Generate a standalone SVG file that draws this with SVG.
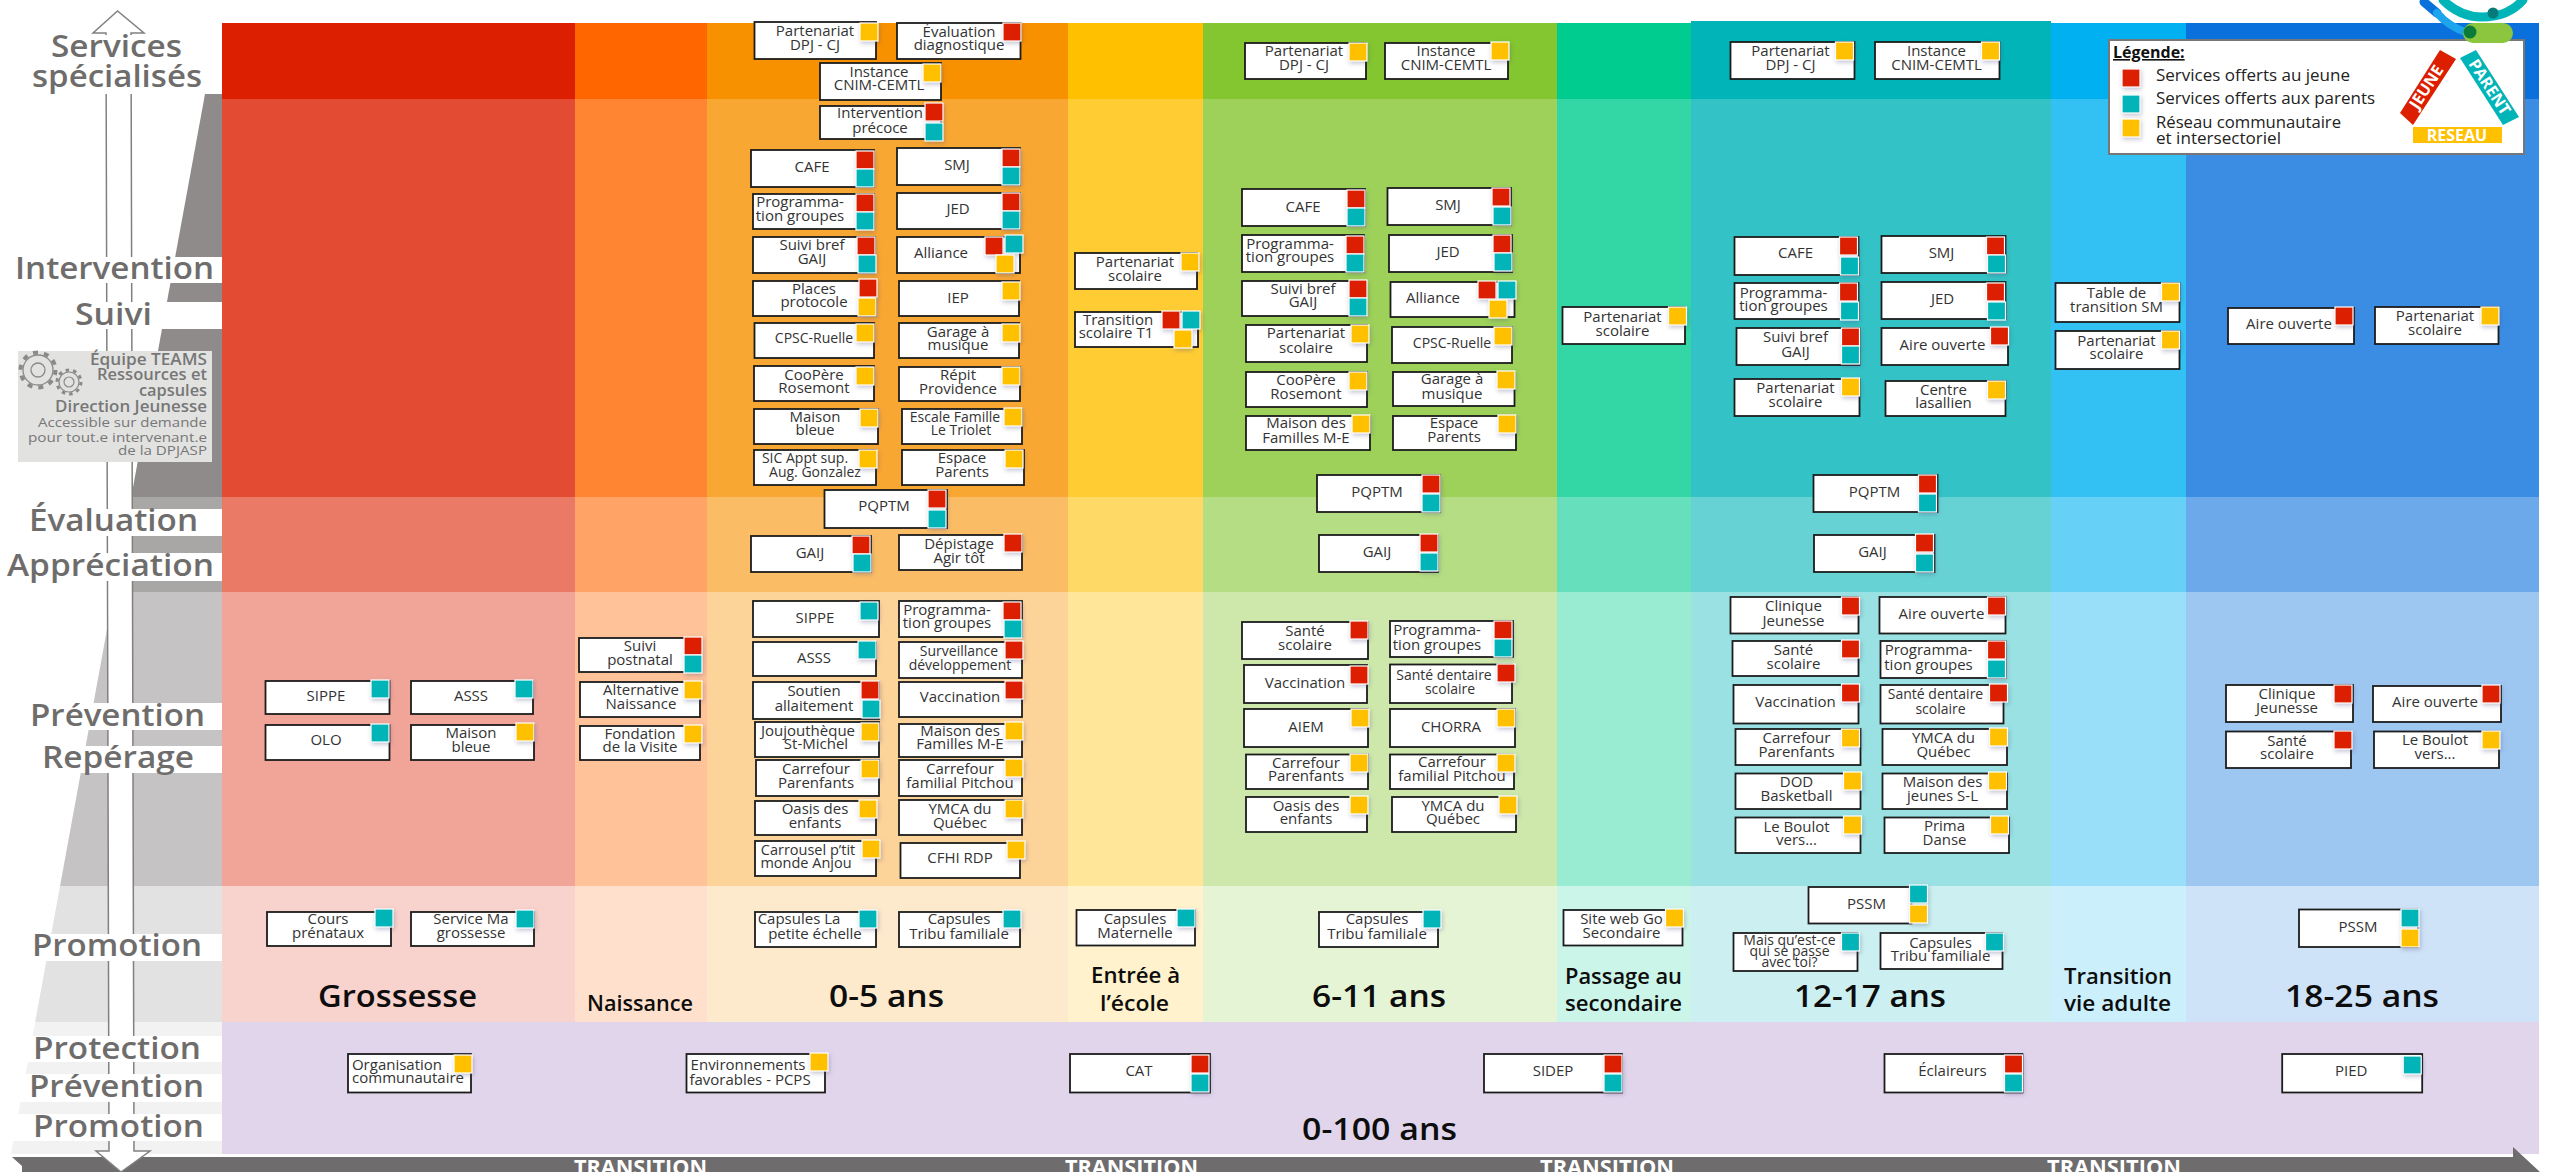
<svg xmlns="http://www.w3.org/2000/svg" width="2549" height="1172" viewBox="0 0 2549 1172">
<style>
text{font-family:"Open Sans","Liberation Sans",sans-serif}
.c0{fill:#DC1F00}.c1{fill:#FF6600}.c2{fill:#F79100}.c3{fill:#FFC000}.c4{fill:#84C630}.c5{fill:#00CC8F}.c6{fill:#00B4B8}.c7{fill:#00B0F0}.c8{fill:#0A70DC}
.b{fill:#fff;stroke:#1c1c1c;stroke-width:1.8}
.s{width:18px;height:18px;stroke:#fff;stroke-width:1.2;filter:drop-shadow(1px 2px 2px rgba(70,70,120,.3))}
.r{fill:#DC1F00}.t{fill:#00B4B8}.g{fill:#FFC000}
.l{font-size:15px;fill:#333;text-anchor:middle}
.h{font-size:30px;font-weight:600;fill:#6F6D6C}
.w{fill:#fff}
.a{font-weight:600;fill:#0d0d0d}
.q{fill:#777}
.lg{font-size:16px;fill:#222}
.tr{font-size:21px;font-weight:700;fill:#fff}
.gear{fill:none;stroke:#8a8a8a}
</style>
<defs><clipPath id="py"><polygon points="205,94 222,94 222,1154 11,1154"/></clipPath></defs>
<rect width="2549" height="1172" fill="#fff"/>
<g id="left-panel">
<g clip-path="url(#py)">
<rect x="0" y="94" width="222" height="403" fill="#8F8B8B"/>
<rect x="0" y="497" width="222" height="95" fill="#A9A7A6"/>
<rect x="0" y="592" width="222" height="294" fill="#C5C3C4"/>
<rect x="0" y="886" width="222" height="136" fill="#E2E2E2"/>
<rect x="0" y="1022" width="222" height="132" fill="#F2F2F2"/>
</g>
</g>
<g id="bands">
<g fill-opacity="1">
<rect class="c0" x="222" y="23" width="353" height="76"/><rect class="c1" x="575" y="23" width="132" height="76"/><rect class="c2" x="707" y="23" width="361" height="76"/><rect class="c3" x="1068" y="23" width="135" height="76"/><rect class="c4" x="1203" y="23" width="354" height="76"/><rect class="c5" x="1557" y="23" width="134" height="76"/><rect class="c6" x="1691" y="21" width="360" height="78"/><rect class="c7" x="2051" y="23" width="135" height="76"/><rect class="c8" x="2186" y="23" width="353" height="76"/>
</g>
<g fill-opacity=".8">
<rect class="c0" x="222" y="99" width="353" height="398"/><rect class="c1" x="575" y="99" width="132" height="398"/><rect class="c2" x="707" y="99" width="361" height="398"/><rect class="c3" x="1068" y="99" width="135" height="398"/><rect class="c4" x="1203" y="99" width="354" height="398"/><rect class="c5" x="1557" y="99" width="134" height="398"/><rect class="c6" x="1691" y="99" width="360" height="398"/><rect class="c7" x="2051" y="99" width="135" height="398"/><rect class="c8" x="2186" y="99" width="353" height="398"/>
</g>
<g fill-opacity=".6">
<rect class="c0" x="222" y="497" width="353" height="95"/><rect class="c1" x="575" y="497" width="132" height="95"/><rect class="c2" x="707" y="497" width="361" height="95"/><rect class="c3" x="1068" y="497" width="135" height="95"/><rect class="c4" x="1203" y="497" width="354" height="95"/><rect class="c5" x="1557" y="497" width="134" height="95"/><rect class="c6" x="1691" y="497" width="360" height="95"/><rect class="c7" x="2051" y="497" width="135" height="95"/><rect class="c8" x="2186" y="497" width="353" height="95"/>
</g>
<g fill-opacity=".4">
<rect class="c0" x="222" y="592" width="353" height="294"/><rect class="c1" x="575" y="592" width="132" height="294"/><rect class="c2" x="707" y="592" width="361" height="294"/><rect class="c3" x="1068" y="592" width="135" height="294"/><rect class="c4" x="1203" y="592" width="354" height="294"/><rect class="c5" x="1557" y="592" width="134" height="294"/><rect class="c6" x="1691" y="592" width="360" height="294"/><rect class="c7" x="2051" y="592" width="135" height="294"/><rect class="c8" x="2186" y="592" width="353" height="294"/>
</g>
<g fill-opacity=".2">
<rect class="c0" x="222" y="886" width="353" height="136"/><rect class="c1" x="575" y="886" width="132" height="136"/><rect class="c2" x="707" y="886" width="361" height="136"/><rect class="c3" x="1068" y="886" width="135" height="136"/><rect class="c4" x="1203" y="886" width="354" height="136"/><rect class="c5" x="1557" y="886" width="134" height="136"/><rect class="c6" x="1691" y="886" width="360" height="136"/><rect class="c7" x="2051" y="886" width="135" height="136"/><rect class="c8" x="2186" y="886" width="353" height="136"/>
</g>
<rect x="222" y="1022" width="2317" height="132" fill="#E1D5EC"/>
</g>
<g id="timeline">
<polygon points="12,1157 2513,1157 2513,1147 2540,1172 22,1172 22,1166" fill="#6E6C6C"/>
<text class="tr" x="574" y="1175" textLength="133" lengthAdjust="spacingAndGlyphs">TRANSITION</text>
<text class="tr" x="1065" y="1175" textLength="133" lengthAdjust="spacingAndGlyphs">TRANSITION</text>
<text class="tr" x="1540" y="1175" textLength="134" lengthAdjust="spacingAndGlyphs">TRANSITION</text>
<text class="tr" x="2047" y="1175" textLength="134" lengthAdjust="spacingAndGlyphs">TRANSITION</text>
</g>
<g id="axis">
<polygon points="117.500,11 93,33 106,33 109,1151 96,1151 121,1172 150,1151 134,1151 131,33 144,33" fill="#fff" stroke="#808080" stroke-width="1.500"/>
</g>
<g id="axis-labels">
<rect class="w" x="0" y="35" width="222" height="59"/>
<rect class="w" x="0" y="257" width="222" height="26"/>
<rect class="w" x="0" y="302" width="222" height="27"/>
<rect class="w" x="0" y="509" width="222" height="27"/>
<rect class="w" x="0" y="553" width="222" height="28"/>
<rect class="w" x="0" y="703" width="222" height="27"/>
<rect class="w" x="0" y="746" width="222" height="27"/>
<rect class="w" x="0" y="934" width="222" height="27"/>
<rect class="w" x="0" y="1036" width="222" height="26"/>
<rect class="w" x="0" y="1074" width="222" height="28"/>
<rect class="w" x="0" y="1114" width="222" height="27"/>
<text class="h" x="51" y="57" textLength="131" lengthAdjust="spacingAndGlyphs">Services</text>
<text class="h" x="32" y="87" textLength="170" lengthAdjust="spacingAndGlyphs">spécialisés</text>
<text class="h" x="15" y="279" textLength="199" lengthAdjust="spacingAndGlyphs">Intervention</text>
<text class="h" x="75" y="325" textLength="77" lengthAdjust="spacingAndGlyphs">Suivi</text>
<text class="h" x="29" y="531" textLength="169" lengthAdjust="spacingAndGlyphs">Évaluation</text>
<text class="h" x="7" y="576" textLength="207" lengthAdjust="spacingAndGlyphs">Appréciation</text>
<text class="h" x="30" y="726" textLength="175" lengthAdjust="spacingAndGlyphs">Prévention</text>
<text class="h" x="42" y="768" textLength="152" lengthAdjust="spacingAndGlyphs">Repérage</text>
<text class="h" x="32" y="956" textLength="170" lengthAdjust="spacingAndGlyphs">Promotion</text>
<text class="h" x="33" y="1059" textLength="168" lengthAdjust="spacingAndGlyphs">Protection</text>
<text class="h" x="29" y="1097" textLength="175" lengthAdjust="spacingAndGlyphs">Prévention</text>
<text class="h" x="33" y="1137" textLength="171" lengthAdjust="spacingAndGlyphs">Promotion</text>
</g>
<g id="teams">
<rect x="18" y="351" width="194" height="111" fill="#E2E2E1"/>
<circle class="gear" cx="38" cy="370" r="15" stroke-width="1.300"/><circle class="gear" cx="38" cy="370" r="17.500" stroke-width="4" stroke-dasharray="5 5.990"/><circle class="gear" cx="38" cy="370" r="7" stroke-width="1.300"/>
<circle class="gear" cx="69" cy="382" r="10" stroke-width="1.200"/><circle class="gear" cx="69" cy="382" r="12" stroke-width="3" stroke-dasharray="3.500 4.040"/><circle class="gear" cx="69" cy="382" r="5" stroke-width="1.200"/>
<text class="q" x="90" y="365" font-size="16" font-weight="600" textLength="117" lengthAdjust="spacingAndGlyphs">Équipe TEAMS</text>
<text class="q" x="97" y="380" font-size="16" font-weight="600" textLength="110" lengthAdjust="spacingAndGlyphs">Ressources et</text>
<text class="q" x="139" y="396" font-size="16" font-weight="600" textLength="68" lengthAdjust="spacingAndGlyphs">capsules</text>
<text class="q" x="55" y="412" font-size="16" font-weight="600" textLength="152" lengthAdjust="spacingAndGlyphs">Direction Jeunesse</text>
<text class="q" x="38" y="427" font-size="13.500" textLength="169" lengthAdjust="spacingAndGlyphs">Accessible sur demande</text>
<text class="q" x="28" y="442" font-size="13.500" textLength="179" lengthAdjust="spacingAndGlyphs">pour tout.e intervenant.e</text>
<text class="q" x="118" y="455" font-size="13.500" textLength="89" lengthAdjust="spacingAndGlyphs">de la DPJASP</text>
</g>
<g id="age-labels">
<text class="a" x="318" y="1007" font-size="30" textLength="159" lengthAdjust="spacingAndGlyphs">Grossesse</text>
<text class="a" x="587" y="1011" font-size="22" textLength="106" lengthAdjust="spacingAndGlyphs">Naissance</text>
<text class="a" x="829" y="1007" font-size="30" textLength="115" lengthAdjust="spacingAndGlyphs">0-5 ans</text>
<text class="a" x="1091" y="983" font-size="22" textLength="89" lengthAdjust="spacingAndGlyphs">Entrée à</text>
<text class="a" x="1100" y="1011" font-size="22" textLength="69" lengthAdjust="spacingAndGlyphs">l’école</text>
<text class="a" x="1312" y="1007" font-size="30" textLength="134" lengthAdjust="spacingAndGlyphs">6-11 ans</text>
<text class="a" x="1565" y="984" font-size="22" textLength="117" lengthAdjust="spacingAndGlyphs">Passage au</text>
<text class="a" x="1565" y="1011" font-size="22" textLength="117" lengthAdjust="spacingAndGlyphs">secondaire</text>
<text class="a" x="1794" y="1007" font-size="30" textLength="152" lengthAdjust="spacingAndGlyphs">12-17 ans</text>
<text class="a" x="2064" y="984" font-size="22" textLength="108" lengthAdjust="spacingAndGlyphs">Transition</text>
<text class="a" x="2064" y="1011" font-size="22" textLength="107" lengthAdjust="spacingAndGlyphs">vie adulte</text>
<text class="a" x="2285" y="1007" font-size="30" textLength="154" lengthAdjust="spacingAndGlyphs">18-25 ans</text>
<text class="a" x="1302" y="1140" font-size="30" textLength="155" lengthAdjust="spacingAndGlyphs">0-100 ans</text>
</g>
<g id="g-sippe"><rect class="b" x="265.500" y="681" width="124" height="33"/><rect class="s t" x="371" y="680"/><text class="l" x="326" y="701">SIPPE</text></g>
<g id="g-asss"><rect class="b" x="411" y="681" width="122" height="33"/><rect class="s t" x="515" y="680"/><text class="l" x="471" y="701">ASSS</text></g>
<g id="g-olo"><rect class="b" x="265.500" y="725" width="124" height="35"/><rect class="s t" x="371" y="724"/><text class="l" x="326" y="745">OLO</text></g>
<g id="g-maison"><rect class="b" x="411" y="725" width="123" height="35"/><rect class="s g" x="516" y="723"/><text class="l" x="471" y="738">Maison<tspan x="471" dy="14">bleue</tspan></text></g>
<g id="g-cours"><rect class="b" x="267" y="912" width="124" height="34"/><rect class="s t" x="375" y="909"/><text class="l" x="328" y="924">Cours<tspan x="328" dy="14">prénataux</tspan></text></g>
<g id="g-service"><rect class="b" x="411" y="912" width="123" height="34"/><rect class="s t" x="516" y="910"/><text class="l" x="471" y="924">Service Ma<tspan x="471" dy="14">grossesse</tspan></text></g>
<g id="n-suivi-post"><rect class="b" x="579" y="638" width="121" height="34"/><rect class="s r" x="684" y="637"/><rect class="s t" x="684" y="655"/><text class="l" x="640" y="651">Suivi<tspan x="640" dy="14">postnatal</tspan></text></g>
<g id="n-alt"><rect class="b" x="580" y="682" width="120" height="35"/><rect class="s g" x="684" y="681"/><text class="l" x="641" y="695">Alternative<tspan x="641" dy="14">Naissance</tspan></text></g>
<g id="n-fond"><rect class="b" x="580" y="726" width="120" height="34"/><rect class="s g" x="684" y="725"/><text class="l" x="640" y="739">Fondation<tspan x="640" dy="13">de la Visite</tspan></text></g>
<g id="a-part"><rect class="b" x="754.500" y="22" width="121.500" height="37"/><rect class="s g" x="860" y="23"/><text class="l" x="815" y="36">Partenariat<tspan x="815" dy="14">DPJ - CJ</tspan></text></g>
<g id="a-eval"><rect class="b" x="897" y="23" width="123.500" height="36"/><rect class="s r" x="1003" y="23"/><text class="l" x="959" y="37">Évaluation<tspan x="959" dy="13">diagnostique</tspan></text></g>
<g id="a-inst"><rect class="b" x="820" y="63" width="121" height="37"/><rect class="s g" x="923" y="64"/><text class="l" x="879" y="77">Instance<tspan x="879" dy="13">CNIM-CEMTL</tspan></text></g>
<g id="a-interv"><rect class="b" x="820" y="106" width="121" height="33"/><rect class="s r" x="925" y="103"/><rect class="s t" x="925" y="123"/><text class="l" x="880" y="118">Intervention<tspan x="880" dy="15">précoce</tspan></text></g>
<g id="a-cafe"><rect class="b" x="751" y="150" width="123" height="37"/><rect class="s r" x="856" y="151"/><rect class="s t" x="856" y="169"/><text class="l" x="812" y="172">CAFE</text></g>
<g id="a-smj"><rect class="b" x="897" y="148" width="123" height="37"/><rect class="s r" x="1002" y="149"/><rect class="s t" x="1002" y="167"/><text class="l" x="957" y="170">SMJ</text></g>
<g id="a-prog"><rect class="b" x="753" y="194" width="121" height="35"/><rect class="s r" x="856" y="194"/><rect class="s t" x="856" y="212"/><text class="l" x="800" y="207">Programma-<tspan x="800" dy="14">tion groupes</tspan></text></g>
<g id="a-jed"><rect class="b" x="897" y="193" width="123" height="36"/><rect class="s r" x="1002" y="193"/><rect class="s t" x="1002" y="211"/><text class="l" x="958" y="214">JED</text></g>
<g id="a-suivi"><rect class="b" x="753" y="237" width="122" height="36"/><rect class="s r" x="857" y="237"/><rect class="s t" x="858" y="255"/><text class="l" x="812" y="250">Suivi bref<tspan x="812" dy="14">GAIJ</tspan></text></g>
<g id="a-all"><rect class="b" x="897" y="237" width="123" height="36"/><rect class="s r" x="985" y="237"/><rect class="s t" x="1005" y="235"/><rect class="s g" x="996" y="255"/><text class="l" x="941" y="258">Alliance</text></g>
<g id="a-places"><rect class="b" x="753" y="281" width="123" height="35"/><rect class="s r" x="859" y="279"/><rect class="s g" x="858" y="298"/><text class="l" x="814" y="294">Places<tspan x="814" dy="13">protocole</tspan></text></g>
<g id="a-iep"><rect class="b" x="899" y="281" width="120" height="35"/><rect class="s g" x="1002" y="282"/><text class="l" x="958" y="303">IEP</text></g>
<g id="a-cpsc"><rect class="b" x="754.500" y="323" width="119.500" height="35"/><rect class="s g" x="856" y="324"/><text class="l" x="814" y="343" style="font-size:14px">CPSC-Ruelle</text></g>
<g id="a-garage"><rect class="b" x="899" y="323" width="120" height="35"/><rect class="s g" x="1002" y="324"/><text class="l" x="958" y="337">Garage à<tspan x="958" dy="13">musique</tspan></text></g>
<g id="a-coop"><rect class="b" x="754" y="366" width="120" height="35"/><rect class="s g" x="856" y="367"/><text class="l" x="814" y="380">CooPère<tspan x="814" dy="13">Rosemont</tspan></text></g>
<g id="a-repit"><rect class="b" x="899" y="367" width="121" height="34"/><rect class="s g" x="1002" y="367"/><text class="l" x="958" y="380">Répit<tspan x="958" dy="14">Providence</tspan></text></g>
<g id="a-mais"><rect class="b" x="754" y="409" width="124" height="35"/><rect class="s g" x="860" y="409"/><text class="l" x="815" y="422">Maison<tspan x="815" dy="13">bleue</tspan></text></g>
<g id="a-escale"><rect class="b" x="902" y="409" width="120" height="35"/><rect class="s g" x="1004" y="408"/><text class="l" x="955" y="422" style="font-size:14px">Escale Famille<tspan x="961" dy="13">Le Triolet</tspan></text></g>
<g id="a-sic"><rect class="b" x="754" y="450" width="122" height="35"/><rect class="s g" x="859" y="450"/><text class="l" x="805" y="463" style="font-size:14px">SIC Appt sup.<tspan x="815" dy="14">Aug. Gonzalez</tspan></text></g>
<g id="a-esp"><rect class="b" x="902" y="450" width="122" height="35"/><rect class="s g" x="1005" y="450"/><text class="l" x="962" y="463">Espace<tspan x="962" dy="14">Parents</tspan></text></g>
<g id="a-pqptm"><rect class="b" x="824.500" y="490" width="122.500" height="38"/><rect class="s r" x="928" y="490"/><rect class="s t" x="928" y="510"/><text class="l" x="884" y="511">PQPTM</text></g>
<g id="a-gaij"><rect class="b" x="751" y="536" width="120" height="36"/><rect class="s r" x="852" y="536"/><rect class="s t" x="853" y="554"/><text class="l" x="810" y="558">GAIJ</text></g>
<g id="a-dep"><rect class="b" x="899" y="535" width="123" height="35"/><rect class="s r" x="1004" y="534"/><text class="l" x="959" y="549">Dépistage<tspan x="959" dy="13.500">Agir tôt</tspan></text></g>
<g id="a-sippe"><rect class="b" x="753" y="601" width="126" height="36"/><rect class="s t" x="860" y="602"/><text class="l" x="815" y="623">SIPPE</text></g>
<g id="a-prog2"><rect class="b" x="899" y="601" width="123" height="36"/><rect class="s r" x="1003" y="602"/><rect class="s t" x="1004" y="620"/><text class="l" x="947" y="615">Programma-<tspan x="947" dy="13">tion groupes</tspan></text></g>
<g id="a-asss"><rect class="b" x="753" y="642" width="123" height="34"/><rect class="s t" x="858" y="641"/><text class="l" x="814" y="663">ASSS</text></g>
<g id="a-surv"><rect class="b" x="899" y="642" width="123" height="36"/><rect class="s r" x="1005" y="641"/><text class="l" x="959" y="656" style="font-size:14px">Surveillance<tspan x="960" dy="14">développement</tspan></text></g>
<g id="a-sout"><rect class="b" x="753" y="682" width="126" height="37"/><rect class="s r" x="861" y="681"/><rect class="s t" x="862" y="700"/><text class="l" x="814" y="696">Soutien<tspan x="814" dy="15">allaitement</tspan></text></g>
<g id="a-vacc"><rect class="b" x="899" y="682" width="123" height="35"/><rect class="s r" x="1005" y="681"/><text class="l" x="960" y="702">Vaccination</text></g>
<g id="a-jouj"><rect class="b" x="755" y="722" width="124" height="35"/><rect class="s g" x="861" y="723"/><text class="l" x="808" y="736">Joujouthèque<tspan x="816" dy="13">St-Michel</tspan></text></g>
<g id="a-maisf"><rect class="b" x="899" y="724" width="123" height="33"/><rect class="s g" x="1005" y="722"/><text class="l" x="960" y="736">Maison des<tspan x="960" dy="13">Familles M-E</tspan></text></g>
<g id="a-carr"><rect class="b" x="756" y="760" width="123" height="36"/><rect class="s g" x="861" y="760"/><text class="l" x="816" y="774">Carrefour<tspan x="816" dy="13.500">Parenfants</tspan></text></g>
<g id="a-pitch"><rect class="b" x="899" y="760" width="123" height="36"/><rect class="s g" x="1005" y="759"/><text class="l" x="960" y="774">Carrefour<tspan x="960" dy="13.500">familial Pitchou</tspan></text></g>
<g id="a-oasis"><rect class="b" x="755" y="801" width="121" height="34"/><rect class="s g" x="859" y="800"/><text class="l" x="815" y="814">Oasis des<tspan x="815" dy="14">enfants</tspan></text></g>
<g id="a-ymca"><rect class="b" x="899" y="800" width="123" height="35"/><rect class="s g" x="1005" y="800"/><text class="l" x="960" y="814">YMCA du<tspan x="960" dy="13.500">Québec</tspan></text></g>
<g id="a-carro"><rect class="b" x="755" y="841" width="121" height="35"/><rect class="s g" x="862" y="840"/><text class="l" x="808" y="855" style="font-size:14.500px">Carrousel p’tit<tspan x="806" dy="13">monde Anjou</tspan></text></g>
<g id="a-cfhi"><rect class="b" x="900.500" y="843" width="119.500" height="35"/><rect class="s g" x="1007" y="841"/><text class="l" x="960" y="863">CFHI RDP</text></g>
<g id="a-caps"><rect class="b" x="755" y="912" width="121" height="35"/><rect class="s t" x="859" y="910"/><text class="l" x="799" y="924">Capsules La<tspan x="815" dy="15">petite échelle</tspan></text></g>
<g id="a-tribu"><rect class="b" x="899" y="912" width="121" height="35"/><rect class="s t" x="1003" y="910"/><text class="l" x="959" y="924">Capsules<tspan x="959" dy="15">Tribu familiale</tspan></text></g>
<g id="c-mat"><rect class="b" x="1076.500" y="910" width="118.500" height="35.500"/><rect class="s t" x="1177" y="909"/><text class="l" x="1135" y="924">Capsules<tspan x="1135" dy="13.500">Maternelle</tspan></text></g>
<g id="c-part"><rect class="b" x="1075" y="253" width="122" height="36"/><rect class="s g" x="1181" y="253"/><text class="l" x="1135" y="267">Partenariat<tspan x="1135" dy="14">scolaire</tspan></text></g>
<g id="c-trans"><rect class="b" x="1075" y="312" width="123" height="35"/><rect class="s r" x="1162" y="311"/><rect class="s t" x="1182" y="311"/><rect class="s g" x="1174" y="330"/><text class="l" x="1118" y="325">Transition<tspan x="1116" dy="13">scolaire T1</tspan></text></g>
<g id="d-part"><rect class="b" x="1245" y="43" width="121" height="36"/><rect class="s g" x="1349" y="43"/><text class="l" x="1304" y="56">Partenariat<tspan x="1304" dy="14">DPJ - CJ</tspan></text></g>
<g id="d-inst"><rect class="b" x="1385" y="43" width="123" height="36"/><rect class="s g" x="1491" y="42"/><text class="l" x="1446" y="56">Instance<tspan x="1446" dy="14">CNIM-CEMTL</tspan></text></g>
<g id="d-cafe"><rect class="b" x="1242" y="189" width="123" height="37"/><rect class="s r" x="1347" y="190"/><rect class="s t" x="1347" y="208"/><text class="l" x="1303" y="212">CAFE</text></g>
<g id="d-smj"><rect class="b" x="1387.500" y="188" width="123.500" height="37"/><rect class="s r" x="1492" y="188"/><rect class="s t" x="1493" y="207"/><text class="l" x="1448" y="210">SMJ</text></g>
<g id="d-prog"><rect class="b" x="1242" y="235" width="122" height="37"/><rect class="s r" x="1346" y="236"/><rect class="s t" x="1346" y="254"/><text class="l" x="1290" y="249">Programma-<tspan x="1290" dy="13">tion groupes</tspan></text></g>
<g id="d-jed"><rect class="b" x="1389" y="235" width="123" height="37"/><rect class="s r" x="1493" y="235"/><rect class="s t" x="1494" y="253"/><text class="l" x="1448" y="257">JED</text></g>
<g id="d-suivi"><rect class="b" x="1242" y="281" width="124" height="35"/><rect class="s r" x="1349" y="280"/><rect class="s t" x="1349" y="298"/><text class="l" x="1303" y="294">Suivi bref<tspan x="1303" dy="13">GAIJ</tspan></text></g>
<g id="d-all"><rect class="b" x="1390.500" y="282" width="124" height="35"/><rect class="s r" x="1478" y="281"/><rect class="s t" x="1498" y="281"/><rect class="s g" x="1489" y="300"/><text class="l" x="1433" y="303">Alliance</text></g>
<g id="d-part2"><rect class="b" x="1246" y="325" width="121" height="37"/><rect class="s g" x="1351" y="325"/><text class="l" x="1306" y="338">Partenariat<tspan x="1306" dy="15">scolaire</tspan></text></g>
<g id="d-cpsc"><rect class="b" x="1392" y="327" width="120" height="36"/><rect class="s g" x="1494" y="327"/><text class="l" x="1452" y="348" style="font-size:14px">CPSC-Ruelle</text></g>
<g id="d-coop"><rect class="b" x="1246" y="372" width="121" height="35"/><rect class="s g" x="1349" y="372"/><text class="l" x="1306" y="385">CooPère<tspan x="1306" dy="14">Rosemont</tspan></text></g>
<g id="d-gar"><rect class="b" x="1393" y="372" width="121.500" height="34"/><rect class="s g" x="1497" y="371"/><text class="l" x="1452" y="384">Garage à<tspan x="1452" dy="15">musique</tspan></text></g>
<g id="d-mais"><rect class="b" x="1246" y="416" width="124" height="34"/><rect class="s g" x="1352" y="415"/><text class="l" x="1306" y="428">Maison des<tspan x="1306" dy="15">Familles M-E</tspan></text></g>
<g id="d-esp"><rect class="b" x="1393" y="416" width="123" height="34"/><rect class="s g" x="1498" y="415"/><text class="l" x="1454" y="428">Espace<tspan x="1454" dy="14">Parents</tspan></text></g>
<g id="d-pq"><rect class="b" x="1317" y="475" width="123" height="37"/><rect class="s r" x="1422" y="475"/><rect class="s t" x="1422" y="494"/><text class="l" x="1377" y="497">PQPTM</text></g>
<g id="d-gaij"><rect class="b" x="1319" y="535" width="119" height="37"/><rect class="s r" x="1420" y="534"/><rect class="s t" x="1420" y="553"/><text class="l" x="1377" y="557">GAIJ</text></g>
<g id="d-sante"><rect class="b" x="1242" y="622" width="126" height="37"/><rect class="s r" x="1350" y="621"/><text class="l" x="1305" y="636">Santé<tspan x="1305" dy="14">scolaire</tspan></text></g>
<g id="d-prog2"><rect class="b" x="1390" y="621" width="123" height="36"/><rect class="s r" x="1494" y="621"/><rect class="s t" x="1494" y="639"/><text class="l" x="1437" y="635">Programma-<tspan x="1437" dy="15">tion groupes</tspan></text></g>
<g id="d-vacc"><rect class="b" x="1244" y="665" width="123" height="38"/><rect class="s r" x="1350" y="666"/><text class="l" x="1305" y="688">Vaccination</text></g>
<g id="d-dent"><rect class="b" x="1390" y="664.500" width="122" height="38.500"/><rect class="s r" x="1497" y="664"/><text class="l" x="1444" y="680" style="font-size:14px">Santé dentaire<tspan x="1450" dy="14">scolaire</tspan></text></g>
<g id="d-aiem"><rect class="b" x="1244" y="709" width="124" height="38"/><rect class="s g" x="1351" y="709"/><text class="l" x="1306" y="732">AIEM</text></g>
<g id="d-chorra"><rect class="b" x="1390" y="709" width="125" height="38"/><rect class="s g" x="1497" y="709"/><text class="l" x="1451" y="732">CHORRA</text></g>
<g id="d-carr"><rect class="b" x="1246" y="754.500" width="122" height="34.500"/><rect class="s g" x="1350" y="754"/><text class="l" x="1306" y="768">Carrefour<tspan x="1306" dy="13">Parenfants</tspan></text></g>
<g id="d-pitch"><rect class="b" x="1390" y="754.500" width="124" height="34.500"/><rect class="s g" x="1497" y="754"/><text class="l" x="1452" y="767">Carrefour<tspan x="1452" dy="14">familial Pitchou</tspan></text></g>
<g id="d-oasis"><rect class="b" x="1246" y="797" width="121" height="35"/><rect class="s g" x="1350" y="796"/><text class="l" x="1306" y="811">Oasis des<tspan x="1306" dy="13">enfants</tspan></text></g>
<g id="d-ymca"><rect class="b" x="1392" y="797" width="124" height="35"/><rect class="s g" x="1499" y="796"/><text class="l" x="1453" y="811">YMCA du<tspan x="1453" dy="13">Québec</tspan></text></g>
<g id="d-tribu"><rect class="b" x="1319" y="912" width="119" height="35"/><rect class="s t" x="1423" y="910"/><text class="l" x="1377" y="924">Capsules<tspan x="1377" dy="15">Tribu familiale</tspan></text></g>
<g id="col-passage" transform="translate(-1.500 0)">
<g id="e-part"><rect class="b" x="1564" y="307" width="122.500" height="37"/><rect class="s g" x="1670" y="307"/><text class="l" x="1624" y="322">Partenariat<tspan x="1624" dy="14">scolaire</tspan></text></g>
<g id="e-site"><rect class="b" x="1565" y="910" width="119" height="35.500"/><rect class="s g" x="1667" y="909"/><text class="l" x="1623" y="924">Site web Go<tspan x="1623" dy="14">Secondaire</tspan></text></g>
</g>
<g id="col-12-17" transform="translate(-3.500 0)">
<g id="f-part"><rect class="b" x="1734" y="42" width="124" height="37"/><rect class="s g" x="1839" y="42"/><text class="l" x="1794" y="56">Partenariat<tspan x="1794" dy="14">DPJ - CJ</tspan></text></g>
<g id="f-inst"><rect class="b" x="1878.500" y="42" width="124.500" height="37"/><rect class="s g" x="1985" y="42"/><text class="l" x="1940" y="56">Instance<tspan x="1940" dy="14">CNIM-CEMTL</tspan></text></g>
<g id="f-cafe"><rect class="b" x="1738" y="237" width="124" height="38"/><rect class="s r" x="1843" y="237"/><rect class="s t" x="1844" y="257"/><text class="l" x="1799" y="258">CAFE</text></g>
<g id="f-smj"><rect class="b" x="1885" y="236" width="124" height="37"/><rect class="s r" x="1990" y="237"/><rect class="s t" x="1991" y="255"/><text class="l" x="1945" y="258">SMJ</text></g>
<g id="f-prog"><rect class="b" x="1738" y="283" width="124" height="36"/><rect class="s r" x="1843" y="283"/><rect class="s t" x="1844" y="302"/><text class="l" x="1787" y="298">Programma-<tspan x="1787" dy="13">tion groupes</tspan></text></g>
<g id="f-jed"><rect class="b" x="1885" y="282" width="124" height="37"/><rect class="s r" x="1990" y="283"/><rect class="s t" x="1991" y="302"/><text class="l" x="1946" y="304">JED</text></g>
<g id="f-suivi"><rect class="b" x="1740" y="328" width="123" height="37"/><rect class="s r" x="1845" y="328"/><rect class="s t" x="1845" y="346"/><text class="l" x="1799" y="342">Suivi bref<tspan x="1799" dy="15">GAIJ</tspan></text></g>
<g id="f-aire"><rect class="b" x="1885" y="328" width="126.500" height="37"/><rect class="s r" x="1994" y="327"/><text class="l" x="1946" y="350">Aire ouverte</text></g>
<g id="f-part2"><rect class="b" x="1738" y="379" width="125" height="37"/><rect class="s g" x="1845" y="378"/><text class="l" x="1799" y="393">Partenariat<tspan x="1799" dy="14">scolaire</tspan></text></g>
<g id="f-centre"><rect class="b" x="1889" y="381" width="120" height="35"/><rect class="s g" x="1991" y="381"/><text class="l" x="1947" y="395">Centre<tspan x="1947" dy="13">lasallien</tspan></text></g>
<g id="f-pq"><rect class="b" x="1817" y="475" width="124" height="37"/><rect class="s r" x="1922" y="475"/><rect class="s t" x="1922" y="494"/><text class="l" x="1878" y="497">PQPTM</text></g>
<g id="f-gaij"><rect class="b" x="1817.500" y="535" width="120.500" height="37"/><rect class="s r" x="1919" y="534"/><rect class="s t" x="1919" y="554"/><text class="l" x="1876" y="557">GAIJ</text></g>
<g id="f-clin"><rect class="b" x="1734" y="597" width="128" height="36.500"/><rect class="s r" x="1845" y="597"/><text class="l" x="1797" y="611">Clinique<tspan x="1797" dy="15">Jeunesse</tspan></text></g>
<g id="f-aire2"><rect class="b" x="1883" y="597" width="126" height="36.500"/><rect class="s r" x="1991" y="597"/><text class="l" x="1945" y="619">Aire ouverte</text></g>
<g id="f-sante"><rect class="b" x="1736" y="641" width="126" height="35"/><rect class="s r" x="1845" y="640"/><text class="l" x="1797" y="655">Santé<tspan x="1797" dy="13.500">scolaire</tspan></text></g>
<g id="f-prog2"><rect class="b" x="1884" y="641" width="125" height="37"/><rect class="s r" x="1991" y="641"/><rect class="s t" x="1991" y="660"/><text class="l" x="1932" y="655">Programma-<tspan x="1932" dy="15">tion groupes</tspan></text></g>
<g id="f-vacc"><rect class="b" x="1737" y="685" width="125" height="38.500"/><rect class="s r" x="1845" y="684"/><text class="l" x="1799" y="707">Vaccination</text></g>
<g id="f-dent"><rect class="b" x="1884" y="685" width="123" height="38.500"/><rect class="s r" x="1993" y="684"/><text class="l" x="1939" y="699" style="font-size:14px">Santé dentaire<tspan x="1944" dy="15">scolaire</tspan></text></g>
<g id="f-carr"><rect class="b" x="1739" y="729" width="125" height="36"/><rect class="s g" x="1845" y="729"/><text class="l" x="1800" y="743">Carrefour<tspan x="1800" dy="14">Parenfants</tspan></text></g>
<g id="f-ymca"><rect class="b" x="1886" y="729" width="124.500" height="36"/><rect class="s g" x="1993" y="728"/><text class="l" x="1947" y="743">YMCA du<tspan x="1947" dy="14">Québec</tspan></text></g>
<g id="f-dod"><rect class="b" x="1739" y="773.500" width="125" height="35.500"/><rect class="s g" x="1847" y="772"/><text class="l" x="1800" y="787">DOD<tspan x="1800" dy="14">Basketball</tspan></text></g>
<g id="f-mais"><rect class="b" x="1886" y="773.500" width="124.500" height="35.500"/><rect class="s g" x="1992" y="772"/><text class="l" x="1946" y="787">Maison des<tspan x="1946" dy="14">jeunes S-L</tspan></text></g>
<g id="f-boul"><rect class="b" x="1739" y="817.500" width="125" height="35.500"/><rect class="s g" x="1847" y="816"/><text class="l" x="1800" y="832">Le Boulot<tspan x="1800" dy="13">vers...</tspan></text></g>
<g id="f-prima"><rect class="b" x="1888" y="817.500" width="124.500" height="35.500"/><rect class="s g" x="1994" y="816"/><text class="l" x="1948" y="831">Prima<tspan x="1948" dy="14">Danse</tspan></text></g>
<g id="f-pssm"><rect class="b" x="1812" y="887" width="103" height="36.500"/><rect class="s t" x="1913" y="885"/><rect class="s g" x="1913" y="905"/><text class="l" x="1870" y="909">PSSM</text></g>
<g id="f-mais2"><rect class="b" x="1737" y="933" width="124" height="38"/><rect class="s t" x="1845" y="933"/><text class="l" x="1793" y="945" style="font-size:14px">Mais qu’est-ce<tspan x="1793" dy="11">qui se passe</tspan><tspan x="1793" dy="11">avec toi?</tspan></text></g>
<g id="f-tribu"><rect class="b" x="1884" y="933" width="122" height="36"/><rect class="s t" x="1989" y="933"/><text class="l" x="1944" y="948">Capsules<tspan x="1944" dy="13">Tribu familiale</tspan></text></g>
</g>
<g id="col-vie-adulte" transform="translate(-5.500 0)">
<g id="h-table"><rect class="b" x="2061" y="283" width="124" height="39"/><rect class="s g" x="2167" y="283"/><text class="l" x="2122" y="298">Table de<tspan x="2122" dy="14">transition SM</tspan></text></g>
<g id="h-part"><rect class="b" x="2061" y="331" width="124" height="38"/><rect class="s g" x="2167" y="331"/><text class="l" x="2122" y="346">Partenariat<tspan x="2122" dy="13">scolaire</tspan></text></g>
</g>
<g id="col-18-25" transform="translate(-7 0)">
<g id="i-aire"><rect class="b" x="2235" y="308" width="126" height="36"/><rect class="s r" x="2342" y="307"/><text class="l" x="2296" y="329">Aire ouverte</text></g>
<g id="i-part"><rect class="b" x="2382" y="307" width="123.500" height="37"/><rect class="s g" x="2488" y="307"/><text class="l" x="2442" y="321">Partenariat<tspan x="2442" dy="14">scolaire</tspan></text></g>
<g id="i-clin"><rect class="b" x="2233" y="685" width="127" height="37"/><rect class="s r" x="2341" y="685"/><text class="l" x="2294" y="699">Clinique<tspan x="2294" dy="13.500">Jeunesse</tspan></text></g>
<g id="i-aire2"><rect class="b" x="2380" y="686" width="128" height="36"/><rect class="s r" x="2489" y="685"/><text class="l" x="2442" y="707">Aire ouverte</text></g>
<g id="i-sante"><rect class="b" x="2233" y="731.500" width="125" height="36.500"/><rect class="s r" x="2341" y="731"/><text class="l" x="2294" y="746">Santé<tspan x="2294" dy="13">scolaire</tspan></text></g>
<g id="i-boul"><rect class="b" x="2381" y="731.500" width="125" height="36.500"/><rect class="s g" x="2489" y="731"/><text class="l" x="2442" y="745">Le Boulot<tspan x="2442" dy="14">vers...</tspan></text></g>
<g id="i-pssm"><rect class="b" x="2306" y="909.500" width="119" height="37.500"/><rect class="s t" x="2408" y="909"/><rect class="s g" x="2408" y="929"/><text class="l" x="2365" y="932">PSSM</text></g>
</g>
<g id="z-org"><rect class="b" x="348" y="1054" width="123" height="38.500"/><rect class="s g" x="454" y="1055"/><text class="l" x="397" y="1070">Organisation<tspan x="408" dy="13">communautaire</tspan></text></g>
<g id="z-env"><rect class="b" x="686.500" y="1054" width="138.500" height="38.500"/><rect class="s g" x="810" y="1053"/><text class="l" x="748" y="1070">Environnements<tspan x="750" dy="14.500">favorables - PCPS</tspan></text></g>
<g id="z-cat"><rect class="b" x="1070" y="1054" width="140" height="38.500"/><rect class="s r" x="1191" y="1055"/><rect class="s t" x="1191" y="1074"/><text class="l" x="1139" y="1076">CAT</text></g>
<g id="z-sidep" transform="translate(-1 0)"><rect class="b" x="1485" y="1054" width="138" height="38.500"/><rect class="s r" x="1605" y="1055"/><rect class="s t" x="1605" y="1074"/><text class="l" x="1554" y="1076">SIDEP</text></g>
<g id="z-ecl" transform="translate(-3.500 0)"><rect class="b" x="1888" y="1054" width="138" height="38.500"/><rect class="s r" x="2008" y="1055"/><rect class="s t" x="2008" y="1074"/><text class="l" x="1956" y="1076">Éclaireurs</text></g>
<g id="z-pied" transform="translate(-6.800 0)"><rect class="b" x="2289" y="1054" width="140" height="38.500"/><rect class="s t" x="2410" y="1056"/><text class="l" x="2358" y="1076">PIED</text></g>
<g id="legend">
<rect x="2109" y="40" width="415" height="114" fill="#fff" stroke="#777" stroke-width="2"/>
<text x="2113" y="58" font-size="16" font-weight="700" fill="#111" text-decoration="underline">Légende:</text>
<rect class="s r" x="2122" y="69"/><rect class="s t" x="2122" y="95"/><rect class="s g" x="2122" y="119"/>
<text class="lg" x="2156" y="81" textLength="194" lengthAdjust="spacingAndGlyphs">Services offerts au jeune</text>
<text class="lg" x="2156" y="104" textLength="219" lengthAdjust="spacingAndGlyphs">Services offerts aux parents</text>
<text class="lg" x="2156" y="128" textLength="185" lengthAdjust="spacingAndGlyphs">Réseau communautaire</text>
<text class="lg" x="2156" y="144" textLength="125" lengthAdjust="spacingAndGlyphs">et intersectoriel</text>
<polygon points="2440,50 2456,59 2413,125 2400,113" fill="#DC1F00"/>
<polygon points="2460,58 2476,50 2519,117 2503,125" fill="#00B4B8"/>
<rect x="2413" y="127" width="89" height="16" fill="#FFC000"/>
<text transform="translate(2431,90) rotate(-57)" font-size="16" font-weight="700" fill="#fff" text-anchor="middle">JEUNE</text>
<text transform="translate(2485,90) rotate(57)" font-size="16" font-weight="700" fill="#fff" text-anchor="middle">PARENT</text>
<text x="2457" y="141" font-size="16" font-weight="700" fill="#fff" text-anchor="middle">RESEAU</text>
</g>
<g id="logo" fill="none" stroke-linecap="round">
<path d="M2424,2 L2437,13" stroke="#0A70DC" stroke-width="9"/>
<path d="M2437,13 Q2449,27 2468,33" stroke="#1CA4EC" stroke-width="8"/>
<path d="M2443,0 Q2460,17 2482,17 Q2508,17 2523,0" stroke="#00B4B8" stroke-width="9"/>
<circle cx="2493" cy="13" r="5.500" fill="#067A78"/>
<rect x="2463" y="23" width="50" height="20" rx="10" fill="#8CC63F"/>
<circle cx="2470" cy="32" r="6.500" fill="#0B7A3A"/>
</g>
</svg>
